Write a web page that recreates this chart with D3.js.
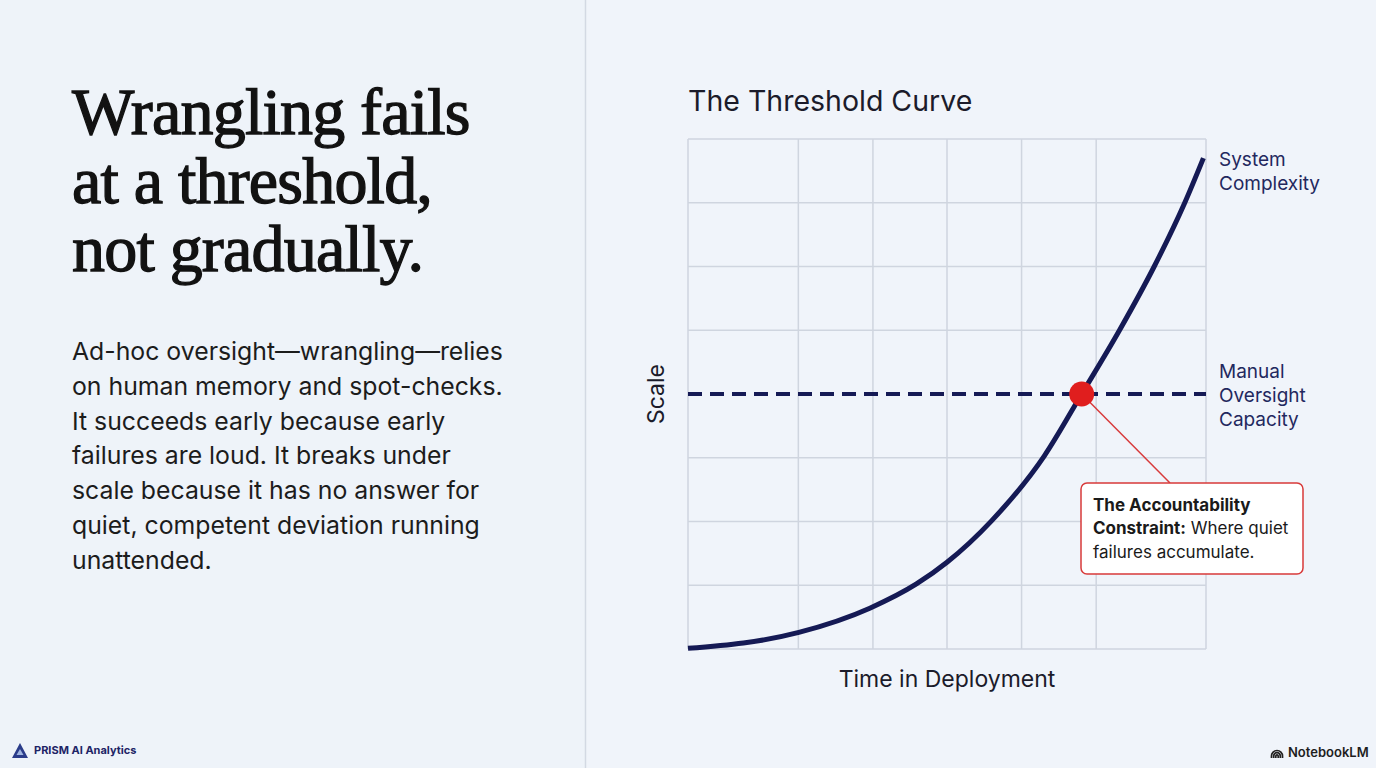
<!DOCTYPE html>
<html><head><meta charset="utf-8">
<script src="https://cdn.jsdelivr.net/npm/d3@7"></script>
<style>
html,body{margin:0;padding:0;background:#eef3f9;}
svg{display:block;}
</style></head>
<body>
<script>
// ---- data ----
const headline = ["Wrangling fails", "at a threshold,", "not gradually."];
const bodyLines = ["Ad-hoc oversight\u2014wrangling\u2014relies", "on human memory and spot-checks.", "It succeeds early because early", "failures are loud. It breaks under", "scale because it has no answer for", "quiet, competent deviation running", "unattended."];
const chartTitle = "The Threshold Curve";
const xLabel = "Time in Deployment";
const yLabel = "Scale";
// vertical grid positions (time units) and horizontal grid positions (scale units)
const xGrid = [0, 21.3, 35.7, 50, 64.4, 78.8, 100];
const yGrid = [0, 1, 2, 3, 4, 5, 6, 7, 8];
// System Complexity curve
const curveX = [0, 21.4, 35.1, 44.1, 50.0, 58.6, 68.8, 76.0, 83.3, 90.0, 95.9, 99.5];
const curveY = [0.01, 0.26, 0.64, 1.02, 1.36, 2.01, 3.03, 4.0, 5.0, 6.0, 7.0, 7.7];
// Manual Oversight Capacity
const capacity = 4;
const thresholdX = 76.0;
const seriesLabels = [["System", "Complexity"], ["Manual", "Oversight", "Capacity"]];
const calloutBold = ["The Accountability", "Constraint:"];
const calloutRest = ["", " Where quiet", "failures accumulate."];

const W = 1376, H = 768;
const svg = d3.select("body").append("svg").attr("width", W).attr("height", H);
svg.append("rect").attr("width", W).attr("height", H).attr("fill", "#eef3f9");
svg.append("rect").attr("x", 586).attr("width", W - 586).attr("height", H).attr("fill", "#f0f4fa");
svg.append("line").attr("x1", 585.5).attr("x2", 585.5).attr("y1", 0).attr("y2", H)
  .attr("stroke", "#d3d9e3").attr("stroke-width", 1.5);

// headline
const hl = svg.append("text").attr("font-family", "'Liberation Serif', serif")
  .attr("font-size", 66).attr("font-weight", 400).attr("fill", "#121212")
  .attr("stroke", "#121212").attr("stroke-width", 1.3).attr("letter-spacing", -0.8);
headline.forEach((t, i) => hl.append("tspan").attr("x", 72).attr("y", 134 + i * 68.5).text(t));

const bl = svg.append("text").attr("font-family", "Inter, sans-serif")
  .attr("font-size", 24.8).attr("fill", "#1c1c1c");
bodyLines.forEach((t, i) => bl.append("tspan").attr("x", 72).attr("y", 360 + i * 34.8).text(t));

// chart
const x = d3.scaleLinear().domain([0, 100]).range([688, 1206]);
const y = d3.scaleLinear().domain([0, 8]).range([649, 139]);

svg.append("text").attr("x", 688).attr("y", 111).attr("font-family", "Inter, sans-serif")
  .attr("font-size", 28.5).attr("fill", "#1b1b2a").text(chartTitle);

const grid = svg.append("g").attr("stroke", "#cfd5df").attr("stroke-width", 1.5);
grid.selectAll("line.v").data(xGrid).join("line")
  .attr("x1", d => x(d)).attr("x2", d => x(d)).attr("y1", y(0)).attr("y2", y(8));
grid.selectAll("line.h").data(yGrid.filter(d => d !== capacity)).join("line").attr("class", "h")
  .attr("x1", x(0)).attr("x2", x(100)).attr("y1", d => y(d)).attr("y2", d => y(d));

svg.append("line").attr("x1", x(0)).attr("x2", x(100)).attr("y1", y(capacity)).attr("y2", y(capacity))
  .attr("stroke", "#151a55").attr("stroke-width", 4).attr("stroke-dasharray", "14 8");

const pts = curveX.map((v, i) => [v, curveY[i]]);
svg.append("path").datum(pts)
  .attr("d", d3.line().x(d => x(d[0])).y(d => y(d[1])).curve(d3.curveMonotoneX))
  .attr("fill", "none").attr("stroke", "#151a55").attr("stroke-width", 5).attr("stroke-linecap", "butt");

// callout
svg.append("line").attr("x1", x(thresholdX)).attr("y1", y(capacity)).attr("x2", 1170).attr("y2", 483)
  .attr("stroke", "#d83a3a").attr("stroke-width", 1.5);
svg.append("circle").attr("cx", x(thresholdX)).attr("cy", y(capacity)).attr("r", 12.5).attr("fill", "#e01e1e");
svg.append("rect").attr("x", 1081).attr("y", 483).attr("width", 222).attr("height", 91).attr("rx", 6)
  .attr("fill", "#ffffff").attr("stroke", "#d83a3a").attr("stroke-width", 1.5);
const ct = svg.append("text").attr("font-family", "Inter, sans-serif").attr("font-size", 17).attr("fill", "#1a1a1a");
calloutRest.forEach((t, i) => {
  const line = ct.append("tspan").attr("x", 1093).attr("y", 511 + i * 23.3);
  if (calloutBold[i]) line.attr("font-weight", 700).text(calloutBold[i]);
  if (t) ct.append("tspan").attr(i === 2 ? "x" : "dx", i === 2 ? 1093 : 0).attr("y", 511 + i * 23.3).text(t);
});

// series labels
const lblY = [166, 378];
seriesLabels.forEach((lines, k) => {
  const t = svg.append("text").attr("font-family", "Inter, sans-serif").attr("font-size", 19).attr("fill", "#23285e");
  lines.forEach((s, i) => t.append("tspan").attr("x", 1219).attr("y", lblY[k] + i * 24).text(s));
});

// axis titles
svg.append("text").attr("x", 947).attr("y", 687).attr("text-anchor", "middle")
  .attr("font-family", "Inter, sans-serif").attr("font-size", 23).attr("fill", "#1b1b2a").text(xLabel);
svg.append("text").attr("transform", "translate(664,394) rotate(-90)").attr("text-anchor", "middle")
  .attr("font-family", "Inter, sans-serif").attr("font-size", 23).attr("fill", "#1b1b2a").text(yLabel);

// footer
svg.append("path").attr("d", "M20,743 L28,758 L12,758 Z").attr("fill", "#2a3c8a");
svg.append("path").attr("d", "M20,749 L23.5,755 L16.5,755 Z").attr("fill", "#9fb4e0");
svg.append("text").attr("x", 34).attr("y", 754).attr("font-family", "Inter, sans-serif")
  .attr("font-size", 11).attr("font-weight", 700).attr("fill", "#1d2466").text("PRISM AI Analytics");
const nb = svg.append("g").attr("fill", "none").attr("stroke", "#222").attr("stroke-width", 1.7);
[5.5, 3.3, 1.2].forEach(r => nb.append("path").attr("d", `M${1277 - r},758 L${1277 - r},756 A${r},${r} 0 0 1 ${1277 + r},756 L${1277 + r},758`));
svg.append("text").attr("x", 1288).attr("y", 757).attr("font-family", "Inter, sans-serif")
  .attr("font-size", 13).attr("font-weight", 600).attr("fill", "#1e1e1e").text("NotebookLM");
</script>
</body></html>
